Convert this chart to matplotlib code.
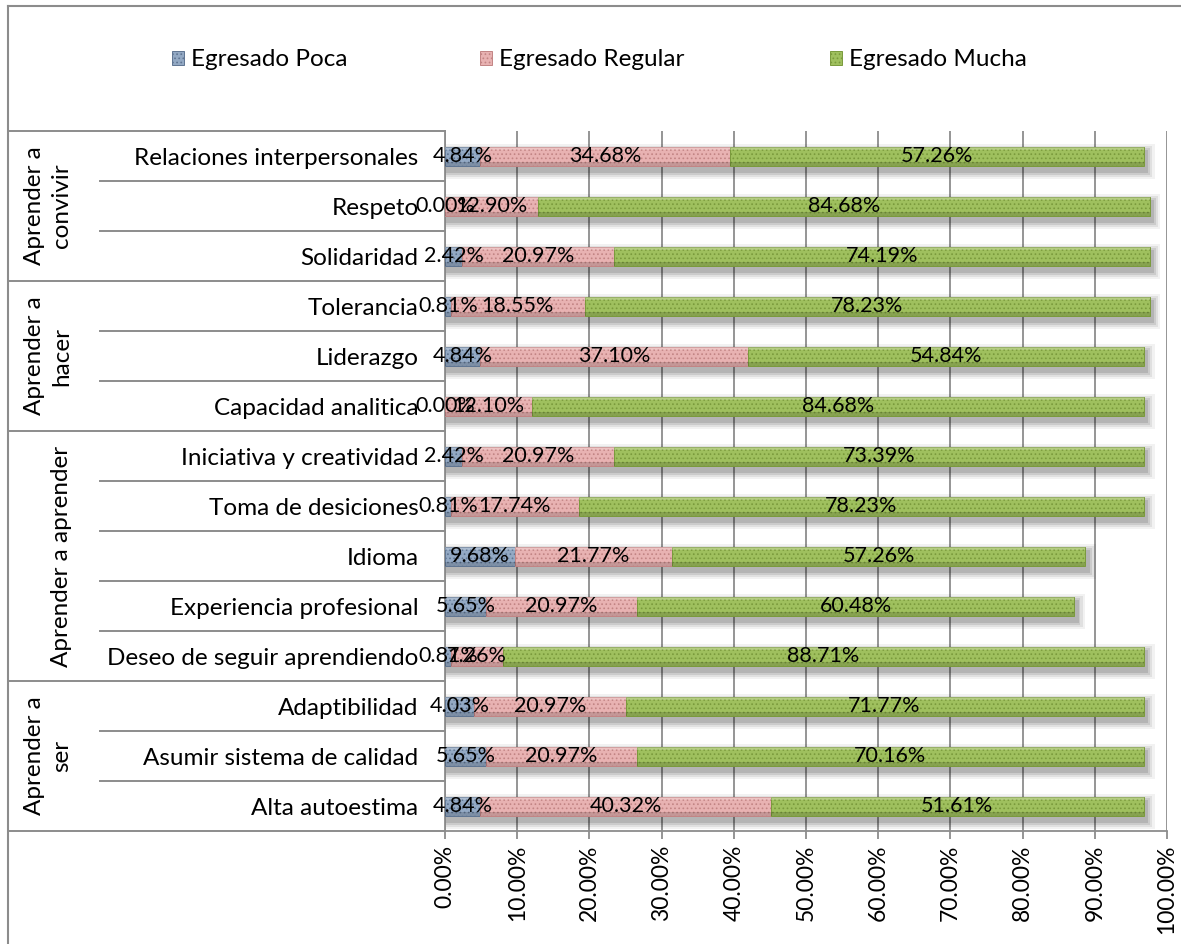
import matplotlib
matplotlib.use("Agg")
import matplotlib.pyplot as plt
import numpy as np
from matplotlib.patches import Patch
from matplotlib.lines import Line2D
from matplotlib.transforms import blended_transform_factory

plt.rcParams['font.family'] = ['Lato', 'DejaVu Sans']
plt.rcParams['hatch.linewidth'] = 0.7

# ---------------- data ----------------
categories = ["Relaciones interpersonales", "Respeto", "Solidaridad",
              "Tolerancia", "Liderazgo", "Capacidad analitica",
              "Iniciativa y creatividad", "Toma de desiciones", "Idioma",
              "Experiencia profesional", "Deseo de seguir aprendiendo",
              "Adaptibilidad", "Asumir sistema de calidad", "Alta autoestima"]
groups = ["Aprender a\nconvivir", "Aprender a\nhacer", "Aprender a aprender", "Aprender a\nser"]
group_sizes = [3, 3, 5, 3]

poca = [4.84, 0.00, 2.42, 0.81, 4.84, 0.00, 2.42, 0.81, 9.68, 5.65, 0.81, 4.03, 5.65, 4.84]
regular = [34.68, 12.90, 20.97, 18.55, 37.10, 12.10, 20.97, 17.74, 21.77, 20.97, 7.26, 20.97, 20.97, 40.32]
mucha = [57.26, 84.68, 74.19, 78.23, 54.84, 84.68, 73.39, 78.23, 57.26, 60.48, 88.71, 71.77, 70.16, 51.61]
series_names = ["Egresado Poca", "Egresado Regular", "Egresado Mucha"]
xticks = [0, 10, 20, 30, 40, 50, 60, 70, 80, 90, 100]

# ---------------- layout ----------------
W, H = 1181, 944
fig = plt.figure(figsize=(W / 100, H / 100), dpi=100)
fig.patch.set_facecolor("white")


def fx(px):
    return px / W


def fy(py):
    return 1 - py / H


ax = fig.add_axes([fx(445), fy(831), fx(1167) - fx(445), fy(131) - fy(831)])
n = len(categories)
y = np.arange(n)

grid_col = "#8c8c8c"
face_cols = ["#93a9c4", "#e8b2b2", "#9fc05e"]
edge_cols = ["#5f7592", "#c28484", "#7a9a3c"]
FS = 17.5
FS_DATA = 15.5
bar_h = 0.38

# shadow behind the stacked bars
totals = np.array(poca) + np.array(regular) + np.array(mucha)
for px_, py_, a in [(1.1, 0.16, 0.05), (0.8, 0.12, 0.07), (0.5, 0.08, 0.09), (0.25, 0.04, 0.11)]:
    ax.barh(y + 0.1, totals + 0.4 + px_, left=0, height=bar_h + 2 * py_,
            color="black", alpha=a, linewidth=0, zorder=2)

left = np.zeros(n)
for name, vals, fc, ec in zip(series_names, [poca, regular, mucha], face_cols, edge_cols):
    vals = np.array(vals)
    ax.barh(y, vals, left=left, height=bar_h, color=fc, edgecolor=ec,
            hatch="....", linewidth=0.7, zorder=3, label=name)
    # bevel: light top, dark bottom
    ax.barh(y - bar_h / 2 + 0.035, vals, left=left, height=0.07, color="white",
            alpha=0.22, linewidth=0, zorder=3.5)
    ax.barh(y + bar_h / 2 - 0.035, vals, left=left, height=0.07, color="black",
            alpha=0.15, linewidth=0, zorder=3.5)
    for yi, l, v in zip(y, left, vals):
        ax.text(l + v / 2, yi, f"{v:.2f}%", ha="center", va="center",
                fontsize=FS_DATA, color="black", zorder=6)
    left += vals

ax.set_xlim(0, 100)
ax.set_ylim(n - 0.5, -0.5)
ax.set_xticks(xticks)
ax.set_xticklabels([f"{t:.2f}%" for t in xticks], rotation=90)
ax.tick_params(axis="x", direction="out", length=6, color=grid_col, width=1.3,
               pad=4, labelsize=16.5)
ax.set_yticks(y)
ax.set_yticklabels(categories)
ax.tick_params(axis="y", length=0, pad=19, labelsize=FS)
ax.xaxis.grid(True, color=grid_col, linewidth=1.3, zorder=0)
ax.set_axisbelow(True)
for s in ["top", "right"]:
    ax.spines[s].set_visible(False)
for s in ["left", "bottom"]:
    ax.spines[s].set_color(grid_col)
    ax.spines[s].set_linewidth(1.3)

# category table lines
trans = blended_transform_factory(fig.transFigure, ax.transData)
bounds = np.concatenate([[0], np.cumsum(group_sizes)])
for b in range(n + 1):
    x0 = fx(8) if b in bounds else fx(100)
    fig.add_artist(Line2D([x0, fx(445)], [b - 0.5, b - 0.5], transform=trans,
                          color=grid_col, linewidth=1.4))
for g, start, size in zip(groups, bounds[:-1], group_sizes):
    ax.text(fx(72), start + size / 2 - 0.5, g, transform=trans, rotation=90,
            ha="right", va="center", multialignment="center", fontsize=FS,
            linespacing=1.35, clip_on=False)

# outer border
fig.add_artist(Line2D([fx(8), 1.0], [fy(6), fy(6)], transform=fig.transFigure,
                      color=grid_col, linewidth=1.5))
fig.add_artist(Line2D([fx(8), fx(8)], [fy(6), 0.0], transform=fig.transFigure,
                      color=grid_col, linewidth=1.5))

# legend
for name, fc, ec, xpx in zip(series_names, face_cols, edge_cols, [172, 480, 830]):
    fig.legend(handles=[Patch(facecolor=fc, edgecolor=ec, hatch="....", linewidth=0.7)],
               labels=[name], loc="center left", bbox_to_anchor=(fx(xpx), fy(60)),
               frameon=False, borderpad=0, borderaxespad=0, handlelength=0.5,
               handleheight=0.5, handletextpad=0.3, fontsize=FS)

fig.savefig("out.png", dpi=100)
